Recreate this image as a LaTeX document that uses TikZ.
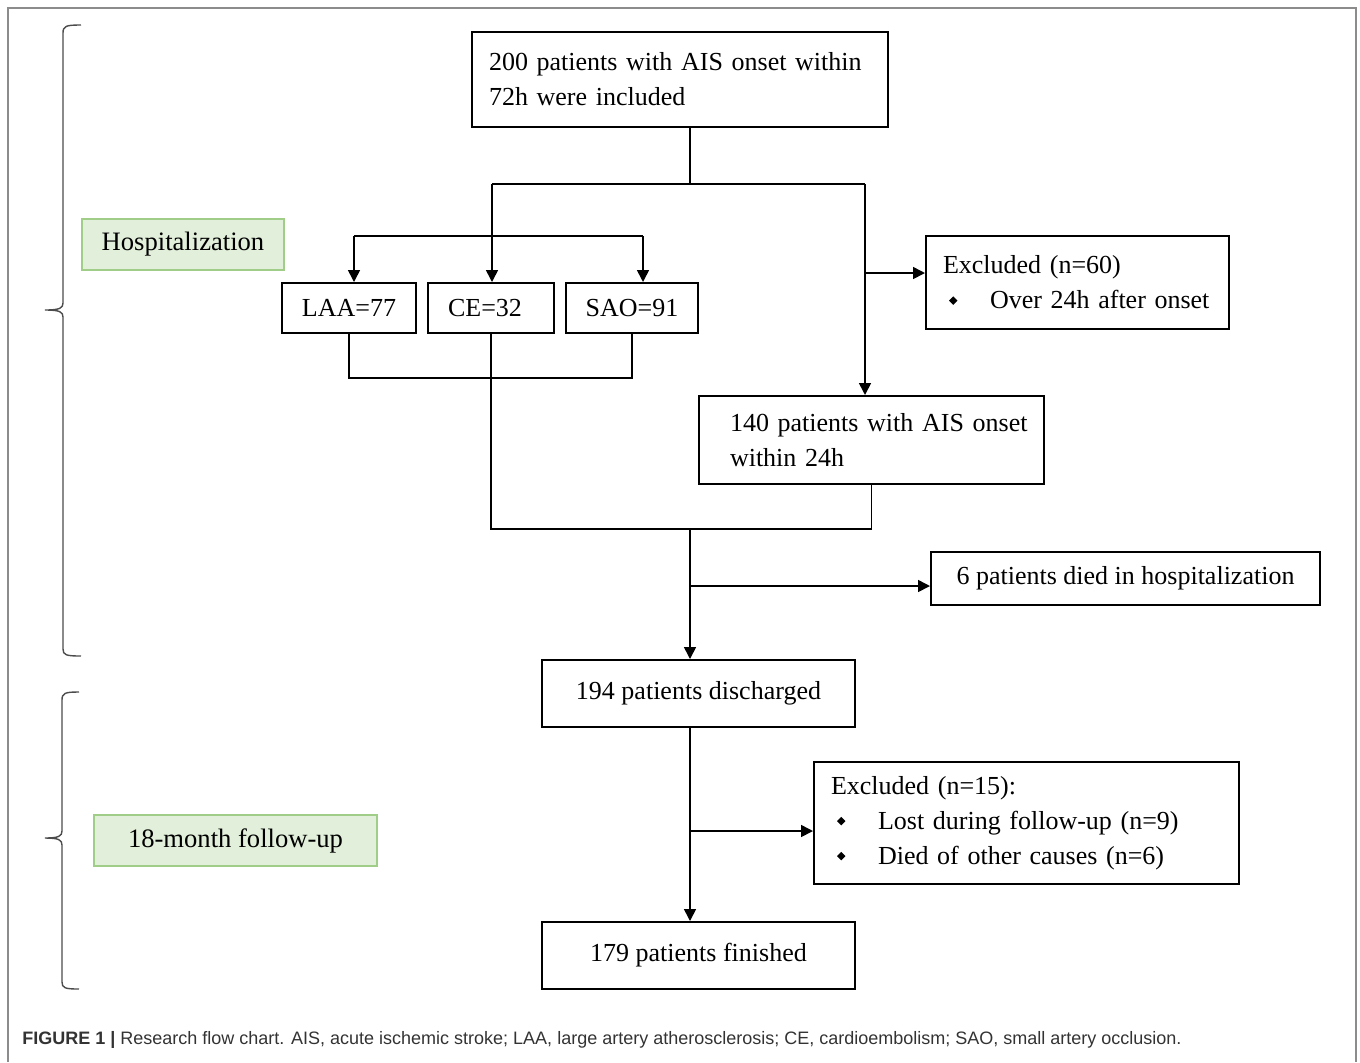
\documentclass[tikz,border=0pt]{standalone}
\usepackage{fontspec}
\usepackage{graphicx}
\setmainfont{Liberation Serif}
\newfontfamily\capfont{Liberation Sans}
\usetikzlibrary{arrows.meta}
\definecolor{stagefill}{RGB}{226,239,218}
\definecolor{stageline}{RGB}{160,205,135}
\newcommand{\itembul}{\makebox[23.5pt][l]{\hspace{3pt}\raisebox{2pt}{\rotatebox{45}{\rule{3pt}{3pt}}}}}
\begin{document}
\begin{tikzpicture}[x=0.5pt,y=-0.5pt,
    flowbox/.style={draw, line width=1pt, inner sep=0pt,
        font=\fontsize{13}{17.5}\selectfont},
    stagebox/.style={draw=stageline, fill=stagefill,
        line width=0.8pt, inner sep=0pt, minimum height=25.5pt,
        font=\fontsize{13.3}{16}\selectfont},
    link/.style={line width=0.8pt},
    arr/.style={link, -{Triangle[length=6pt,width=6pt]}},
    stagebrace/.style={line width=0.7pt, draw=black!70}]
    \useasboundingbox (0,0) rectangle (1360,1062);

    % Draw the frame
    \draw[black!45, line width=0.8pt] (8,1062) -- (8,8) -- (1356,8) -- (1356,1062);

    % Draw the stage boxes and braces
    \node[stagebox, minimum width=101pt] (hosp) at (183,244.5) {Hospitalization};
    \node[stagebox, minimum width=141.5pt] (follow) at (235.5,840.5) {18-month follow-up};
    \draw[stagebrace] (81,25) .. controls (66,25) and (63,26) .. (63,33) -- (63,303)
        .. controls (63,308) and (60,310) .. (45,310) .. controls (60,310) and (63,312) .. (63,317)
        -- (63,649) .. controls (63,655) and (66,656) .. (81,656);
    \draw[stagebrace] (79,692) .. controls (65,692) and (62,693) .. (62,700) -- (62,831)
        .. controls (62,836) and (59,838) .. (45,838) .. controls (59,838) and (62,840) .. (62,845)
        -- (62,982) .. controls (62,988) and (65,989) .. (79,989);

    % Draw the flow boxes
    \node[flowbox, minimum width=208pt, minimum height=47.5pt, text width=191pt, align=left]
        (all200) at (680,79.5) {\makebox[191pt][s]{200 patients with AIS onset within}\\72h were included};
    \node[flowbox, minimum width=67pt, minimum height=25pt] (laa) at (349,308) {LAA=77};
    \node[flowbox, minimum width=63pt, minimum height=25pt] (ce) at (491,308) {\hspace*{-6pt}CE=32};
    \node[flowbox, minimum width=66pt, minimum height=25pt] (sao) at (632,308) {SAO=91};
    \node[flowbox, minimum width=151.5pt, minimum height=46.5pt, text width=134.5pt, align=left]
        (exc60) at (1077.5,282.5) {Excluded (n=60)\\\mbox{\itembul Over 24h after onset}};
    \node[flowbox, minimum width=172.5pt, minimum height=44pt, text width=141.5pt, align=left]
        (p140) at (871.5,440) {\mbox{140 patients with AIS onset}\\within 24h};
    \node[flowbox, minimum width=194.5pt, minimum height=26.5pt] (died6) at (1125.5,578.5) {6 patients died in hospitalization};
    \node[flowbox, minimum width=156.5pt, minimum height=33.5pt] (dis194) at (698.5,693.5) {\raisebox{2pt}{194 patients discharged}};
    \node[flowbox, minimum width=212.5pt, minimum height=61pt, text width=195.5pt, align=left]
        (exc15) at (1026.5,823) {Excluded (n=15):\\\mbox{\itembul Lost during follow-up (n=9)}\\\mbox{\itembul Died of other causes (n=6)}};
    \node[flowbox, minimum width=156.5pt, minimum height=33.5pt] (fin179) at (698.5,955.5) {\raisebox{2pt}{179 patients finished}};

    % Junction points
    \coordinate (jtop) at (690,184);
    \coordinate (jleft) at (492,184);
    \coordinate (jright) at (865,184);
    \coordinate (jexc) at (865,273);
    \coordinate (jlaa) at (354,236);
    \coordinate (jsao) at (643,236);
    \coordinate (jsub) at (491,378);
    \coordinate (jmid) at (690,529);
    \coordinate (jdied) at (690,586);
    \coordinate (jlost) at (690,831);

    % Draw the connectors
    \draw[link] (all200.south -| jtop) -- (jtop);
    \draw[link] (jleft) -- (jright);
    \draw[arr] (jleft) -- (jleft |- ce.north);
    \draw[arr] (jright) -- (jright |- p140.north);
    \draw[arr] (jexc) -- (jexc -| exc60.west);
    \draw[link] (jlaa) -- (jsao);
    \draw[arr] (jlaa) -- (jlaa |- laa.north);
    \draw[arr] (jsao) -- (jsao |- sao.north);
    \draw[link] (laa.south) -- (laa.south |- jsub) -- (sao.south |- jsub) -- (sao.south);
    \draw[link] (ce.south) |- (p140.south |- jmid) -- (p140.south);
    \draw[arr] (jmid) -- (jmid |- dis194.north);
    \draw[arr] (jdied) -- (jdied -| died6.west);
    \draw[arr] (dis194.south -| jlost) -- (fin179.north -| jlost);
    \draw[arr] (jlost) -- (jlost -| exc15.west);

    % Caption
    \node[anchor=west, inner sep=0pt, text=black!80, font=\capfont\fontsize{9}{11}\selectfont]
        (caption) at (22,1040) {\textbf{FIGURE 1 |} Research flow chart. AIS, acute ischemic stroke; LAA, large artery atherosclerosis; CE, cardioembolism; SAO, small artery occlusion.};
\end{tikzpicture}
\end{document}
